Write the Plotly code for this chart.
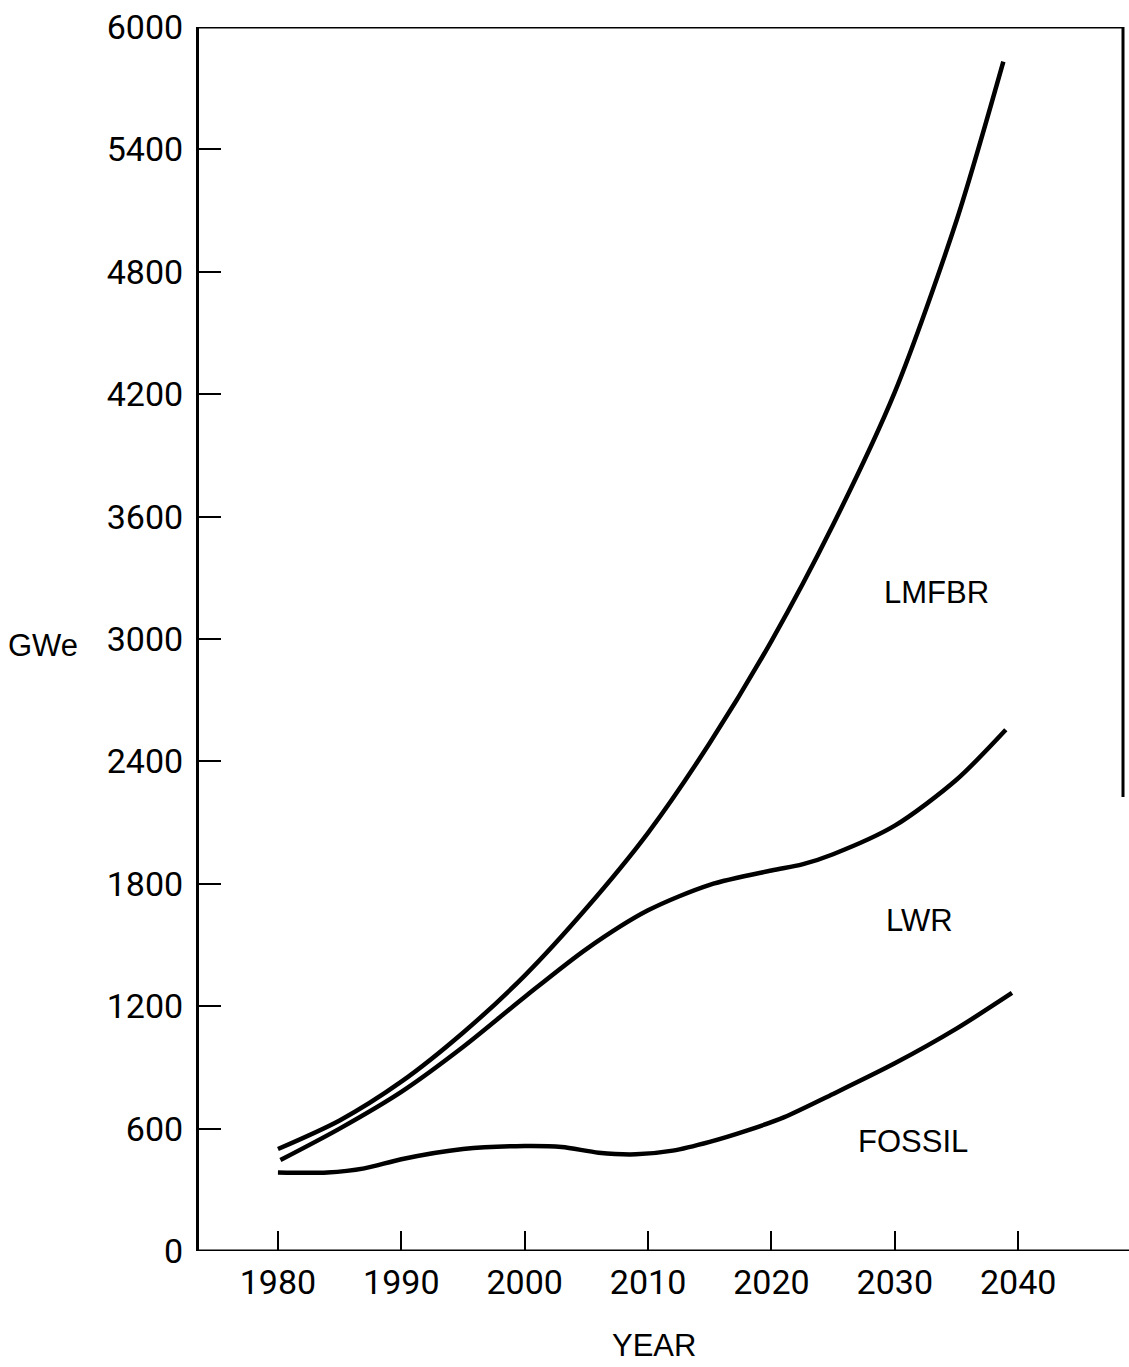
import plotly.graph_objects as go

# Installed electrical generating capacity (GWe) by plant type
lmfbr_years = [1980, 1985, 1990, 1995, 2000, 2005, 2010, 2015, 2020, 2025, 2030, 2035, 2038.8]
lmfbr_gwe = [500, 640, 830, 1070, 1350, 1680, 2050, 2490, 2990, 3560, 4210, 5050, 5830]

lwr_years = [1980.2, 1985, 1990, 1995, 2000, 2005, 2010, 2015, 2020, 2022.5, 2025, 2030, 2035, 2039]
lwr_gwe = [446, 600, 780, 1000, 1245, 1480, 1670, 1795, 1865, 1895, 1945, 2085, 2310, 2555]

fossil_years = [1980, 1984, 1987, 1990, 1995, 2000, 2003, 2006, 2009, 2012, 2015, 2018, 2021, 2025, 2030, 2035, 2039.5]
fossil_gwe = [385, 385, 405, 450, 500, 515, 510, 482, 474, 492, 535, 590, 655, 770, 920, 1090, 1265]

year_ticks = [1980, 1990, 2000, 2010, 2020, 2030, 2040]
gwe_ticks = [0, 600, 1200, 1800, 2400, 3000, 3600, 4200, 4800, 5400, 6000]

series_labels = [("LMFBR", 2033.4, 3230), ("LWR", 2032.0, 1618), ("FOSSIL", 2031.5, 539)]

INK = "black"
LABEL_FONT = dict(family="Liberation Sans, Arial, sans-serif", size=31, color=INK)
TICK_FONT = dict(family="Roboto, sans-serif", size=34, color=INK)

fig = go.Figure()
for xs, ys, name in [(lmfbr_years, lmfbr_gwe, "LMFBR"),
                     (lwr_years, lwr_gwe, "LWR"),
                     (fossil_years, fossil_gwe, "FOSSIL")]:
    fig.add_trace(go.Scatter(
        x=xs, y=ys, name=name, mode="lines",
        line=dict(color=INK, width=4.5, shape="spline", smoothing=0.8),
        hoverinfo="x+y+name",
    ))

for text, lx, ly in series_labels:
    fig.add_annotation(x=lx, y=ly, xref="x", yref="y", text=text,
                       xanchor="center", yanchor="middle",
                       showarrow=False, font=LABEL_FONT)

fig.add_annotation(x=-0.169, y=0.495, xref="paper", yref="paper", text="GWe",
                   xanchor="center", yanchor="middle",
                   showarrow=False, font=LABEL_FONT)
fig.add_annotation(x=0.4924, y=-0.077, xref="paper", yref="paper", text="YEAR",
                   xanchor="center", yanchor="middle",
                   showarrow=False, font=LABEL_FONT)

# frame: top edge, partial right edge, and a bottom axis running past the plot
fig.add_shape(type="line", xref="paper", yref="y", x0=-0.002, x1=1.0, y0=6000, y1=6000,
              line=dict(color=INK, width=3))
fig.add_shape(type="line", xref="paper", yref="y", x0=1.0, x1=1.0, y0=6000, y1=2225,
              line=dict(color=INK, width=3))
fig.add_shape(type="line", xref="paper", yref="y", x0=-0.002, x1=1.01, y0=0, y1=0,
              line=dict(color=INK, width=3))

fig.update_xaxes(
    range=[1973.6, 2048.5], tickvals=year_ticks, ticktext=[str(v) for v in year_ticks],
    ticks="inside", ticklen=20, tickwidth=2, tickcolor=INK,
    showline=False, showgrid=False, zeroline=False,
    tickfont=TICK_FONT, ticklabelstandoff=8,
)
fig.update_yaxes(
    range=[0, 6000], tickvals=gwe_ticks, ticktext=[str(v) for v in gwe_ticks],
    ticks="inside", ticklen=22, tickwidth=2, tickcolor=INK,
    showline=True, linecolor=INK, linewidth=3, mirror=False,
    showgrid=False, zeroline=False,
    tickfont=TICK_FONT, ticklabelstandoff=6,
)

fig.update_layout(
    width=1129, height=1367,
    margin=dict(l=199, r=6, t=27, b=116),
    paper_bgcolor="white", plot_bgcolor="white",
    showlegend=False,
)

fig.write_html("out.html")
